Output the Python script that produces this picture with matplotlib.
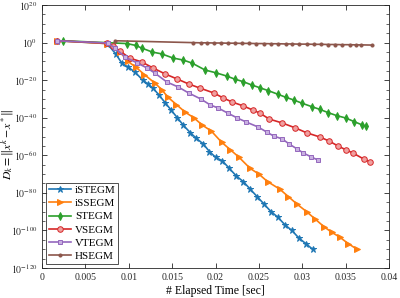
import matplotlib
matplotlib.use("Agg")
import matplotlib.pyplot as plt
import numpy as np
from matplotlib.ticker import FixedLocator, NullFormatter

# elapsed time [sec] and log10(D_k)
t_istegm = [0.0017, 0.0075, 0.0085, 0.0092, 0.0099, 0.0107, 0.0116, 0.0122, 0.0128, 0.0135,
            0.0142, 0.0149, 0.0156, 0.0163, 0.0171, 0.0178, 0.0186, 0.0193, 0.0200, 0.0208,
            0.0216, 0.0224, 0.0232, 0.0240, 0.0248, 0.0256, 0.0264, 0.0272, 0.0280, 0.0288,
            0.0296, 0.0304, 0.0312]
e_istegm = [1, -0.5, -6, -10.9, -13, -15.6, -19.9, -22, -24.2, -28,
            -32, -36, -40, -44, -48, -51, -54, -58, -61, -63,
            -67, -71, -74, -78, -82, -86, -90, -93, -97, -100,
            -104, -107, -110]

t_issegm = [0.0017, 0.0075, 0.0090, 0.0099, 0.0108, 0.0118, 0.0130, 0.0138, 0.0145, 0.0155,
            0.0165, 0.0175, 0.0185, 0.0195, 0.0207, 0.0217, 0.0227, 0.0240, 0.0250, 0.0260,
            0.0274, 0.0284, 0.0294, 0.0305, 0.0315, 0.0325, 0.0334, 0.0343, 0.0353, 0.0363]
e_issegm = [1, -0.5, -5, -10, -13, -17, -21.5, -25, -29, -33,
            -37, -40, -44, -47, -53, -57, -61, -67, -70, -74,
            -78, -82, -86, -90, -94, -98, -101, -103.5, -107, -110]

t_stegm = [0.0024, 0.0098, 0.0108, 0.0115, 0.0127, 0.0138, 0.0151, 0.0163, 0.0173, 0.0188,
           0.0200, 0.0213, 0.0222, 0.0232, 0.0242, 0.0251, 0.0261, 0.0272, 0.0281, 0.0290,
           0.0300, 0.0311, 0.0320, 0.0330, 0.0340, 0.0350, 0.0360, 0.0369, 0.0373]
e_stegm = [1, -0.5, -1.5, -2.9, -5, -6, -8.2, -9.3, -10.9, -14.6,
           -16, -17.8, -19.4, -20.8, -22.6, -24, -25.6, -27.5, -29.1, -30.5,
           -32.3, -34.1, -35.5, -37.3, -38.9, -40.1, -42.1, -43.8, -44.4]

t_vsegm = [0.0017, 0.0075, 0.0082, 0.0090, 0.0101, 0.0115, 0.0128, 0.0142, 0.0156, 0.0169,
           0.0182, 0.0198, 0.0209, 0.0219, 0.0232, 0.0243, 0.0251, 0.0262, 0.0277, 0.0292,
           0.0305, 0.0320, 0.0331, 0.0341, 0.0350, 0.0358, 0.0371, 0.0378]
e_vsegm = [1, -0.3, -2, -4.5, -8.2, -10.3, -13.5, -16.7, -19.4, -22,
           -24.2, -26.8, -29.5, -31.6, -33.7, -35.9, -37.5, -40.7, -42.8, -45.4,
           -48, -50.2, -52.4, -55, -57, -58.7, -62, -63.5]

t_vtegm = [0.0017, 0.0076, 0.0084, 0.0096, 0.0110, 0.0121, 0.0130, 0.0144, 0.0157, 0.0169,
           0.0183, 0.0194, 0.0203, 0.0214, 0.0225, 0.0235, 0.0249, 0.0259, 0.0267, 0.0277,
           0.0285, 0.0294, 0.0301, 0.0310, 0.0318]
e_vtegm = [1, -0.2, -2.9, -7.7, -10.9, -13.5, -16.2, -21, -23.6, -26.8,
           -30, -33.2, -34.8, -37.5, -40.1, -42.2, -44.9, -47.6, -49.7, -51.3,
           -54, -56.6, -58.7, -60.8, -62.5]

t_hsegm = [0.0084, 0.0174, 0.0183, 0.0190, 0.0198, 0.0206, 0.0214, 0.0222, 0.0230, 0.0239,
           0.0247, 0.0256, 0.0264, 0.0272, 0.0281, 0.0288, 0.0296, 0.0305, 0.0313, 0.0322,
           0.0330, 0.0338, 0.0346, 0.0355, 0.0362, 0.0368, 0.0380]
e_hsegm = [1, 0, -0.1, -0.1, -0.2, -0.2, -0.3, -0.3, -0.4, -0.4,
           -0.5, -0.5, -0.6, -0.6, -0.7, -0.7, -0.8, -0.8, -0.9, -0.9,
           -1.0, -1.0, -1.1, -1.1, -1.2, -1.2, -1.3]

labels = ['iSTEGM', 'iSSEGM', 'STEGM', 'VSEGM', 'VTEGM', 'HSEGM']
xticks = [0, 0.005, 0.01, 0.015, 0.02, 0.025, 0.03, 0.035, 0.04]
xtick_labels = ['0', '0.005', '0.01', '0.015', '0.02', '0.025', '0.03', '0.035', '0.04']
yexps = [20, 0, -20, -40, -60, -80, -100, -120]

plt.rcParams['font.family'] = ['Liberation Serif', 'DejaVu Serif']
plt.rcParams['mathtext.fontset'] = 'stix'

fig = plt.figure(figsize=(4, 2.98), dpi=100)
ax = fig.add_axes([0.105, 0.1007, 0.8675, 0.8823])

series = [(t_istegm, e_istegm), (t_issegm, e_issegm), (t_stegm, e_stegm),
          (t_vsegm, e_vsegm), (t_vtegm, e_vtegm), (t_hsegm, e_hsegm)]
colors = ['#1f77b4', '#ff7f0e', '#2ca02c', '#d62728', '#9467bd', '#8c564b']
faces = ['#1f77b4', '#ff7f0e', '#2ca02c', '#f0a0a0', '#c8b0e0', '#8c564b']
markers = ['*', '>', 'd', 'o', 's', '.']
msizes = [5, 4, 4, 4, 3.5, 4.5]

for (t, e), lab, c, fc, m, ms in zip(series, labels, colors, faces, markers, msizes):
    ax.semilogy(t, 10.0 ** np.array(e), color=c, marker=m, markersize=ms,
                markerfacecolor=fc, markeredgecolor=c, markeredgewidth=0.7,
                linewidth=1.2, label=lab)

ax.set_xlim(0, 0.04)
ax.set_ylim(1e-120, 1e20)
ax.set_xticks(xticks)
ax.set_xticklabels(xtick_labels)
ax.yaxis.set_major_locator(FixedLocator([10.0 ** k for k in yexps]))
ax.yaxis.set_minor_locator(FixedLocator([10.0 ** k for k in range(-115, 20, 5) if k % 20 != 0]))
ax.yaxis.set_minor_formatter(NullFormatter())
ax.set_yticklabels([r'$10^{%d}$' % k for k in yexps])

ax.tick_params(which='both', direction='in', top=True, right=True,
               labelsize=7, colors='#262626')
ax.tick_params(which='major', length=3.5, width=0.6)
ax.tick_params(which='minor', length=2, width=0.5)
for s in ax.spines.values():
    s.set_color('#262626')
    s.set_linewidth(0.6)

ax.set_xlabel('# Elapsed Time [sec]', fontsize=8.5, labelpad=2)
ax.set_ylabel(r'$D_k = \|x^k - x^*\|$', fontsize=8.5)
ax.yaxis.set_label_coords(-0.076, 0.47)

leg = ax.legend(loc='lower left', fontsize=8, frameon=True, fancybox=False,
                borderpad=0.25, labelspacing=0.3, handlelength=2.0, handletextpad=0.3,
                borderaxespad=0.4)
leg.get_frame().set_edgecolor('black')
leg.get_frame().set_linewidth(0.6)

fig.savefig('out.png', dpi=100)
